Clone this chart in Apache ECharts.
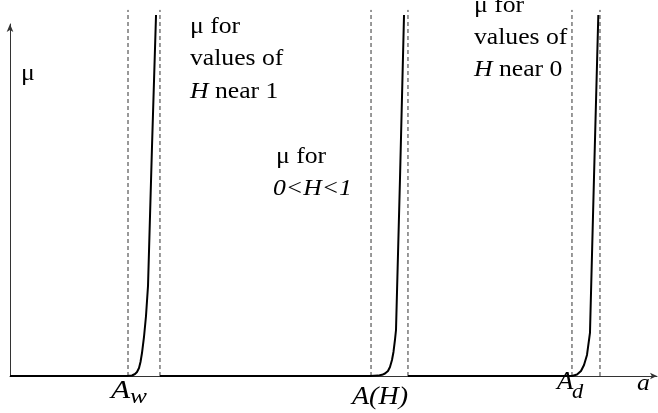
<!DOCTYPE html>
<html>
<head>
<meta charset="utf-8">
<script src="https://cdn.jsdelivr.net/npm/echarts@6/dist/echarts.min.js"></script>
<style>html,body{margin:0;padding:0;background:#fff}#c{width:658px;height:413px}</style>
</head>
<body>
<div id="c"></div>
<script>
// Curve for H near 1 (a, mu)
var curveNear1A  = [0, 1.808, 1.886, 1.932, 1.963, 1.994, 2.017, 2.040, 2.071, 2.102, 2.133, 2.195, 2.257];
var curveNear1Mu = [0, 0,     0.014, 0.057, 0.114, 0.227, 0.398, 0.653, 1.108, 1.705, 2.557, 6.534, 10.256];
// Curve for 0<H<1
var curveMidA  = [2.318, 5.564, 5.688, 5.750, 5.796, 5.842, 5.873, 5.904, 5.927, 5.950, 5.966, 6.028, 6.090];
var curveMidMu = [0,     0,     0.011, 0.034, 0.071, 0.142, 0.256, 0.455, 0.682, 1.023, 1.307, 5.625, 10.256];
// Curve for H near 0
var curveNear0A  = [6.151, 8.686, 8.764, 8.825, 8.872, 8.918, 8.964, 9.026, 9.093];
var curveNear0Mu = [0,     0,     0.043, 0.142, 0.313, 0.597, 1.222, 5.625, 10.256];
// Dashed reference lines (a positions) and their height
var dashedA = [1.824, 2.318, 5.580, 6.151, 8.686, 9.119];
var dashedTop = 10.4;

function zip(xs, ys) { return xs.map(function (x, i) { return [x, ys[i]]; }); }

var serif = 'Liberation Serif';
var curveStyle = { color: '#000', width: 2 };
var series = [
  { type: 'line', data: zip(curveNear1A, curveNear1Mu) },
  { type: 'line', data: zip(curveMidA, curveMidMu) },
  { type: 'line', data: zip(curveNear0A, curveNear0Mu) }
].map(function (s) {
  s.showSymbol = false; s.symbol = 'none'; s.clip = false; s.silent = true;
  s.lineStyle = curveStyle; s.z = 3; return s;
});
dashedA.forEach(function (a) {
  series.push({ type: 'line', data: [[a, 0], [a, dashedTop]], symbol: 'none', clip: false, silent: true,
    lineStyle: { color: '#333', width: 1, type: [4, 3] }, z: 2 });
});

function txt(text, x, y, size, extra) {
  extra = extra || {};
  var st = { text: text, x: 0, y: 0, fill: '#000', font: (extra.italic ? 'italic ' : '') + size + 'px "' + serif + '"',
    textAlign: 'left', verticalAlign: 'middle' };
  if (extra.rich) st.rich = extra.rich;
  return { type: 'text', x: x, y: y, scaleX: extra.sx || 1.07, style: st, z: 10 };
}
var richI = { i: { fontStyle: 'italic', fontSize: 24, fontFamily: serif }, n: { fontSize: 24, fontFamily: serif } };

var chart = echarts.init(document.getElementById('c'), null, { renderer: 'canvas' });
chart.setOption({
  animation: false,
  grid: { left: 10, right: 1, top: 24, bottom: 37 },
  xAxis: { type: 'value', min: 0, max: 10, axisLine: { show: true, symbol: ['none', 'arrow'], symbolSize: [5, 7], lineStyle: { color: '#333', width: 1 } },
    axisTick: { show: false }, axisLabel: { show: false }, splitLine: { show: false } },
  yAxis: { type: 'value', min: 0, max: 10, axisLine: { show: true, symbol: ['none', 'arrow'], symbolSize: [5, 8], lineStyle: { color: '#333', width: 1 } },
    axisTick: { show: false }, axisLabel: { show: false }, splitLine: { show: false } },
  series: series,
  graphic: [
    txt('μ', 21, 74, 24),
    txt('μ for', 190, 27, 24),
    txt('values of', 190, 59, 24),
    txt('{i|H}{n| near 1}', 190, 92, 24, { rich: richI }),
    txt('μ for', 276, 157, 24),
    txt('0<H<1', 273, 189, 24, { italic: true }),
    txt('μ for', 474, 6, 24),
    txt('values of', 474, 38, 24),
    txt('{i|H}{n| near 0}', 474, 70, 24, { rich: richI }),
    txt('A', 111, 391, 25, { italic: true, sx: 1.25 }),
    txt('w', 130, 397, 22, { italic: true, sx: 1.15 }),
    txt('A(H)', 352, 397, 25, { italic: true, sx: 1.12 }),
    txt('A', 557, 382, 25, { italic: true }),
    txt('d', 572, 392, 21, { italic: true }),
    txt('a', 637, 384, 24, { italic: true })
  ]
});
</script>
</body>
</html>
